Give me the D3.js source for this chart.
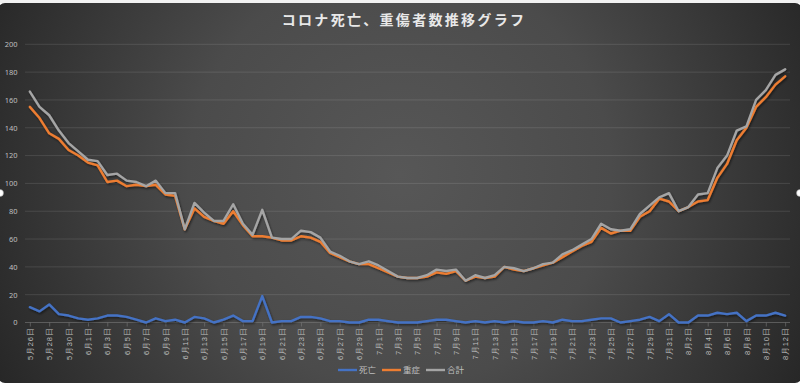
<!DOCTYPE html>
<html>
<head>
<meta charset="utf-8">
<script src="https://cdn.jsdelivr.net/npm/d3@7"></script>
<style>
  body { margin: 0; background: #fff; }
  svg { display: block; font-family: "Noto Sans CJK JP", "Noto Sans", sans-serif; }
</style>
</head>
<body>
<div id="chart"></div>
<script>
// daily data, 5/26 .. 8/12
var startDate = new Date(2020, 4, 26);
var dayCount = 79;

var deaths = [11, 8, 13, 6, 5, 3, 2, 3, 5, 5, 4, 2, 0, 3, 1, 2, 0, 4, 3, 0,
  2, 5, 1, 1, 19, 0, 1, 1, 4, 4, 3, 1, 1, 0, 0, 2, 2, 1, 0, 0,
  0, 1, 2, 2, 1, 0, 1, 0, 1, 0, 1, 0, 0, 1, 0, 2, 1, 1, 2, 3,
  3, 0, 1, 2, 4, 1, 6, 0, 0, 5, 5, 7, 6, 7, 1, 5, 5, 7, 5];

var severe = [155, 147, 136, 132, 124, 120, 115, 113, 101, 102, 98, 99, 98, 99, 92, 91, 67, 82, 76, 73,
  71, 80, 70, 62, 62, 61, 59, 59, 62, 61, 58, 50, 47, 44, 42, 42, 39, 36, 33, 32,
  32, 33, 36, 35, 37, 30, 33, 32, 33, 40, 38, 37, 39, 41, 43, 47, 51, 55, 58, 68,
  64, 66, 66, 76, 80, 89, 87, 80, 83, 87, 88, 104, 114, 131, 140, 155, 162, 171, 177];

var total = [166, 155, 149, 138, 129, 123, 117, 116, 106, 107, 102, 101, 98, 102, 93, 93, 67, 86, 79, 73,
  73, 85, 71, 63, 81, 61, 60, 60, 66, 65, 61, 51, 48, 44, 42, 44, 41, 37, 33, 32,
  32, 34, 38, 37, 38, 30, 34, 32, 34, 40, 39, 37, 39, 42, 43, 49, 52, 56, 60, 71,
  67, 66, 67, 78, 84, 90, 93, 80, 83, 92, 93, 111, 120, 138, 141, 160, 167, 178, 182];

var seriesNames = ["死亡", "重症", "合計"];
var seriesColors = ["#4472c4", "#ed7d31", "#a5a5a5"];
var yTicks = [0, 20, 40, 60, 80, 100, 120, 140, 160, 180, 200];

var dates = d3.range(dayCount).map(function(i) {
  var d = new Date(startDate);
  d.setDate(d.getDate() + i);
  return (d.getMonth() + 1) + "月" + d.getDate() + "日";
});

var width = 800, height = 383;
var svg = d3.select("#chart").append("svg")
    .attr("width", width)
    .attr("height", height);

var defs = svg.append("defs");
var grad = defs.append("radialGradient")
    .attr("id", "bg")
    .attr("gradientUnits", "userSpaceOnUse")
    .attr("cx", 400).attr("cy", 175).attr("r", 470);
grad.append("stop").attr("offset", "0").attr("stop-color", "#575757");
grad.append("stop").attr("offset", "0.45").attr("stop-color", "#4b4b4b");
grad.append("stop").attr("offset", "1").attr("stop-color", "#242424");

var shadow = defs.append("filter").attr("id", "shadow")
    .attr("x", "-5%").attr("y", "-5%").attr("width", "110%").attr("height", "110%");
shadow.append("feDropShadow")
    .attr("dx", 1).attr("dy", 1.5).attr("stdDeviation", 1)
    .attr("flood-color", "#000").attr("flood-opacity", 0.55);

// spreadsheet strip and chart area
svg.append("rect").attr("x", 0).attr("y", 0).attr("width", width).attr("height", 3)
    .attr("fill", "#f2f2f2");
svg.append("rect")
    .attr("x", -2).attr("y", 3)
    .attr("width", width + 4).attr("height", height - 3)
    .attr("rx", 7)
    .attr("fill", "url(#bg)");

svg.append("text")
    .attr("x", 404).attr("y", 25)
    .attr("text-anchor", "middle")
    .attr("font-size", "14px")
    .attr("font-weight", "bold")
    .attr("letter-spacing", "2.3px")
    .attr("fill", "#e8e8e8")
    .text("コロナ死亡、重傷者数推移グラフ");

var x = d3.scalePoint().domain(d3.range(dayCount)).range([25, 790]).padding(0.5);
var y = d3.scaleLinear().domain([0, 200]).range([322.5, 44.3]);

// grid
svg.append("g")
    .selectAll("line")
    .data(yTicks.slice(1))
    .enter().append("line")
    .attr("x1", 25).attr("x2", 790)
    .attr("y1", function(d) { return y(d); })
    .attr("y2", function(d) { return y(d); })
    .attr("stroke", "#ffffff")
    .attr("stroke-opacity", 0.11)
    .attr("stroke-width", 1);

var yAxis = svg.append("g")
    .attr("transform", "translate(17.5,0)")
    .call(d3.axisLeft(y).tickValues(yTicks).tickSize(0).tickPadding(0));
yAxis.select(".domain").remove();
yAxis.selectAll("text")
    .attr("font-size", "7.5px")
    .attr("fill", "#bfbfbf")
    .attr("font-family", "Noto Sans, sans-serif");

// x axis
var xAxis = svg.append("g")
    .attr("transform", "translate(0," + y(0) + ")")
    .call(d3.axisBottom(x)
        .tickValues(d3.range(0, dayCount, 2))
        .tickSize(4)
        .tickFormat(function(i) { return dates[i]; }));
xAxis.select(".domain")
    .attr("d", "M25,0H790")
    .attr("stroke", "#7a7a7a")
    .attr("stroke-opacity", 0.6);
xAxis.selectAll(".tick line").attr("stroke", "#7a7a7a").attr("stroke-opacity", 0.6);
xAxis.selectAll("text")
    .attr("font-size", "7.5px")
    .attr("fill", "#bfbfbf")
    .attr("letter-spacing", "0.8px")
    .attr("text-anchor", "end")
    .attr("transform", "rotate(-90)")
    .attr("x", -5)
    .attr("y", 0)
    .attr("dy", "0.35em");

// lines
var seriesData = [deaths, severe, total];
var line = d3.line()
    .x(function(d, i) { return x(i); })
    .y(function(d) { return y(d); });

svg.append("g").attr("filter", "url(#shadow)")
    .selectAll("path")
    .data([0, 1, 2])
    .enter().append("path")
    .attr("d", function(k) { return line(seriesData[k]); })
    .attr("fill", "none")
    .attr("stroke", function(k) { return seriesColors[k]; })
    .attr("stroke-width", 2.4)
    .attr("stroke-linejoin", "round")
    .attr("stroke-linecap", "round");

// legend
var legendX = [338, 382, 426];
var legend = svg.append("g").selectAll("g")
    .data(seriesNames)
    .enter().append("g")
    .attr("transform", function(d, i) { return "translate(" + legendX[i] + ",370)"; });
legend.append("line")
    .attr("x1", 0).attr("x2", 19)
    .attr("stroke", function(d, i) { return seriesColors[i]; })
    .attr("stroke-width", 2.4);
legend.append("text")
    .attr("x", 21).attr("dy", "0.35em")
    .attr("font-size", "8.5px")
    .attr("fill", "#bfbfbf")
    .text(function(d) { return d; });

// selection handles
svg.append("g").selectAll("circle")
    .data([0, width])
    .enter().append("circle")
    .attr("cx", function(d) { return d; })
    .attr("cy", 193)
    .attr("r", 3.5)
    .attr("fill", "#fff")
    .attr("stroke", "#999")
    .attr("stroke-width", 0.5);
</script>
</body>
</html>
